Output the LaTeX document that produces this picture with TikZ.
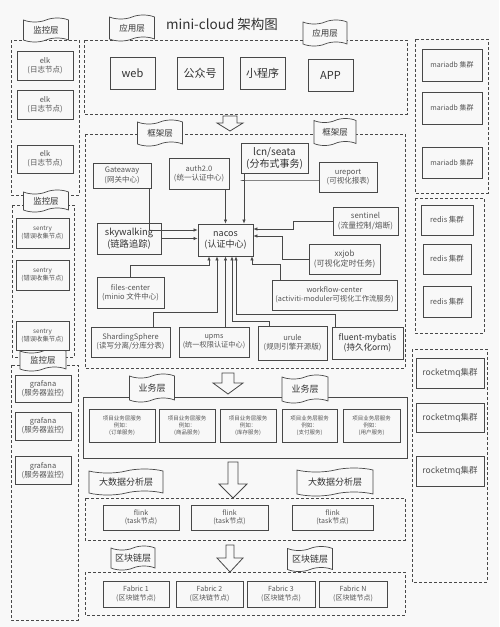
\documentclass[tikz,border=0pt]{standalone}
\usepackage{fontspec}
\setmainfont{Noto Sans CJK SC}
\usetikzlibrary{shapes.symbols,arrows.meta}
\definecolor{bg}{RGB}{248,248,248}
\definecolor{ln}{RGB}{72,72,72}
\definecolor{tx}{RGB}{50,50,50}
\definecolor{tx2}{RGB}{85,85,85}
\begin{document}
\begin{tikzpicture}[x=1pt,y=-1pt,
 bx/.style={draw=ln, line width=0.8pt, fill=bg, align=center, text=tx2, inner sep=1pt},
 dbox/.style={draw=ln, line width=0.8pt, dash pattern=on 3pt off 2pt},
 sbox/.style={draw=ln, line width=0.8pt},
 flag/.style={shape=tape, draw=ln, line width=0.7pt, fill=bg, tape bend height=4pt, text=tx, inner sep=0pt, font=\fontsize{8.5}{10}\selectfont},
 arr/.style={draw=ln, line width=0.7pt, -{Latex[length=4pt,width=3.5pt]}},
 cn/.style={draw=ln, line width=0.7pt},
 harrow/.style={draw=ln, line width=0.8pt, fill=bg, line join=miter},
 fa/.style={font=\fontsize{5.5}{6.8}\selectfont},
 fb/.style={font=\fontsize{7}{8.6}\selectfont},
 fc/.style={font=\fontsize{7.5}{9.2}\selectfont},
 fd/.style={font=\fontsize{8.5}{10.5}\selectfont},
 fe/.style={font=\fontsize{10}{12}\selectfont, text=tx},
 ff/.style={font=\fontsize{11}{13}\selectfont, text=tx},
 ]
\fill[bg] (0,0) rectangle (499,627);
\useasboundingbox (0,0) rectangle (499,627);

% title
\node[text=tx, font=\fontsize{13.5}{16}\selectfont] (title) at (222,24) {mini-cloud 架构图};

% ---------- dashed containers ----------
\draw[dbox] (11,40) rectangle (79,195);
\draw[dbox] (12,205) rectangle (74,357);
\draw[dbox] (11,365) rectangle (78,620);
\draw[dbox] (84,40) rectangle (407,114);
\draw[dbox] (85,134) rectangle (405,368);
\draw[sbox] (83,397) rectangle (407,458);
\draw[dbox] (85,498) rectangle (405,540);
\draw[dbox] (85,572) rectangle (405,615);
\draw[dbox] (415,39) rectangle (488,193);
\draw[dbox] (415,198) rectangle (484,333);
\draw[dbox] (412,349) rectangle (487,582);

% ---------- flags ----------
\node[flag, minimum width=45, minimum height=24] (fm1) at (46,30) {监控层};
\node[flag, minimum width=45, minimum height=22] (fm2) at (46,201) {监控层};
\node[flag, minimum width=46, minimum height=22] (fm3) at (43,360) {监控层};
\node[flag, minimum width=45, minimum height=26] (fa1) at (132,28) {应用层};
\node[flag, minimum width=44, minimum height=26] (fa2) at (325,33) {应用层};
\node[flag, minimum width=45, minimum height=26] (ff1) at (160,133) {框架层};
\node[flag, minimum width=42, minimum height=27] (ff2) at (335,132) {框架层};
\node[flag, minimum width=45, minimum height=28, font=\fontsize{9}{11}\selectfont] (fb1) at (152,388) {业务层};
\node[flag, minimum width=46, minimum height=28, font=\fontsize{9}{11}\selectfont] (fb2) at (305,389) {业务层};
\node[flag, minimum width=74, minimum height=26, font=\fontsize{9}{11}\selectfont] (fd1) at (126,482) {大数据分析层};
\node[flag, minimum width=76, minimum height=28, font=\fontsize{9}{11}\selectfont] (fd2) at (335,482) {大数据分析层};
\node[flag, minimum width=44, minimum height=24, font=\fontsize{9}{11}\selectfont] (fc1) at (133,558) {区块链层};
\node[flag, minimum width=45, minimum height=25, font=\fontsize{9}{11}\selectfont] (fc2) at (310,559) {区块链层};

% ---------- hollow arrows ----------
\draw[harrow] (223,116) -- (237,116) -- (237,123) -- (243,123) -- (230,131) -- (217,123) -- (223,123) -- cycle;
\draw[harrow] (222,373) -- (234,373) -- (234,383) -- (243,383) -- (228,394) -- (213,383) -- (222,383) -- cycle;
\draw[harrow] (228,462) -- (238,462) -- (238,484) -- (247,484) -- (233,498) -- (219,484) -- (228,484) -- cycle;
\draw[harrow] (226,545) -- (234,545) -- (234,558) -- (243,558) -- (230,572) -- (217,558) -- (226,558) -- cycle;

% ---------- left column ----------
\node[bx, fc, minimum width=56, minimum height=29] (elk1) at (45,65.5) {elk\\(日志节点)};
\node[bx, fc, minimum width=56, minimum height=29] (elk2) at (45,104.5) {elk\\(日志节点)};
\node[bx, fc, minimum width=56, minimum height=28] (elk3) at (45,159) {elk\\(日志节点)};
\node[bx, font=\fontsize{6.3}{8}\selectfont, minimum width=53, minimum height=30] (sen1) at (42.5,233) {sentry\\(错误收集节点)};
\node[bx, font=\fontsize{6.3}{8}\selectfont, minimum width=53, minimum height=30] (sen2) at (42.5,275) {sentry\\(错误收集节点)};
\node[bx, font=\fontsize{6.3}{8}\selectfont, minimum width=53, minimum height=29] (sen3) at (42.5,336) {sentry\\(错误收集节点)};
\node[bx, fc, minimum width=56, minimum height=27] (gra1) at (43,389) {grafana\\(服务器监控)};
\node[bx, fc, minimum width=56, minimum height=28] (gra2) at (43,426) {grafana\\(服务器监控)};
\node[bx, fc, minimum width=56, minimum height=28] (gra3) at (43,470.5) {grafana\\(服务器监控)};

% ---------- application layer ----------
\node[bx, ff, minimum width=45, minimum height=32] (web) at (132.5,73) {web};
\node[bx, ff, minimum width=46, minimum height=32] (gzh) at (200,73) {公众号};
\node[bx, ff, minimum width=45, minimum height=32] (xcx) at (262.5,73) {小程序};
\node[bx, ff, minimum width=45, minimum height=32] (app) at (330.5,75) {APP};

% ---------- framework layer ----------
\node[bx, fc, minimum width=58, minimum height=25] (gw) at (122,175.5) {Gateaway\\(网关中心)};
\node[bx, fc, minimum width=60, minimum height=31] (auth) at (199,173.5) {auth2.0\\(统一认证中心)};
\node[bx, fe, minimum width=67, minimum height=30] (lcn) at (274.5,158) {lcn/seata\\(分布式事务)};
\node[bx, fc, minimum width=58, minimum height=30] (urep) at (348,177) {ureport\\(可视化报表)};
\node[bx, font=\fontsize{7.8}{9.5}\selectfont, minimum width=65, minimum height=28] (sent) at (365.5,221) {sentinel\\(流量控制/熔断)};
\node[bx, font=\fontsize{9.3}{11.5}\selectfont, text=tx, minimum width=64, minimum height=31] (sky) at (129,238.5) {skywalking\\(链路追踪)};
\node[bx, font=\fontsize{9}{11}\selectfont, text=tx, minimum width=55, minimum height=32] (nacos) at (225.5,240) {nacos\\(认证中心)};
\node[bx, font=\fontsize{8}{10}\selectfont, minimum width=71, minimum height=30] (xxjob) at (344.5,259) {xxjob\\(可视化定时任务)};
\node[bx, fc, minimum width=67, minimum height=31] (files) at (130.5,292.5) {files-center\\(minio 文件中心)};
\node[bx, font=\fontsize{7.3}{9}\selectfont, minimum width=125, minimum height=30] (wf) at (334.5,295) {workflow-center\\(activiti-moduler可视化工作流服务)};
\node[bx, fc, minimum width=79, minimum height=30] (shard) at (130.5,342) {ShardingSphere\\(读写分离/分库分表)};
\node[bx, font=\fontsize{7.2}{9}\selectfont, minimum width=70, minimum height=30] (upms) at (214,342) {upms\\(统一权限认证中心)};
\node[bx, fc, minimum width=69, minimum height=34] (urule) at (292.5,343) {urule\\(规则引擎开源版)};
\node[bx, fd, text=tx, minimum width=71, minimum height=32] (fluent) at (367.5,343) {fluent-mybatis\\(持久化orm)};

% connectors to nacos
\draw[arr] ([xshift=-2pt]gw.south east) |- ([yshift=10pt]nacos.west);
\draw[arr] (sky.east) -- (sky.east -| nacos.west);
\draw[arr] (auth.south -| nacos.north) -- (nacos.north);
\draw[arr] ([xshift=18.5pt]nacos.north |- lcn.south) -- ([xshift=18.5pt]nacos.north);
\draw[cn] ([yshift=-3pt]urep.west) -- ([yshift=-3pt]urep.west -| lcn.south west) -- ++(3,0);
\draw[arr] (sent.west) -- ++(-39,0) |- ([yshift=11pt]nacos.east);
\draw[arr] (xxjob.west) -- ++(-26,0) |- ([yshift=4pt]nacos.east);
\draw[arr] (files.north) -- ++(0,-11) -| ([xshift=-16.5pt]nacos.south);
\draw[arr] ([xshift=22.5pt]shard.north) -- ++(0,-14) -| ([xshift=-8.5pt]nacos.south);
\draw[arr] (upms.north -| nacos.south) -- (nacos.south);
\draw[arr] ([xshift=-23.5pt]urule.north) -- ++(0,-4) -| ([xshift=6.5pt]nacos.south);
\draw[arr] ([xshift=-32.5pt]fluent.north) -- ++(0,-12) -| ([xshift=10.5pt]nacos.south);
\draw[arr] ([xshift=-54.5pt]wf.north) -- ++(0,-15) -| ([xshift=26.5pt]nacos.south);

% ---------- business layer ----------
\node[bx, fa, minimum width=66, minimum height=33] (b1) at (122,425.5) {项目业务层服务\\例如：\\(订单服务)};
\node[bx, fa, minimum width=56, minimum height=33] (b2) at (187,425.5) {项目业务层服务\\例如：\\(商品服务)};
\node[bx, fa, minimum width=56, minimum height=33] (b3) at (248,425.5) {项目业务层服务\\例如：\\(库存服务)};
\node[bx, fa, minimum width=55, minimum height=33] (b4) at (309.5,425.5) {项目业务层服务\\例如：\\(支付服务)};
\node[bx, fa, minimum width=57, minimum height=33] (b5) at (371.5,425.5) {项目业务层服务\\例如：\\(用户服务)};

% ---------- big data layer ----------
\node[bx, fb, minimum width=76, minimum height=25] (fl1) at (141,517.5) {flink\\(task节点)};
\node[bx, fb, minimum width=77, minimum height=25] (fl2) at (229.5,517.5) {flink\\(task节点)};
\node[bx, fb, minimum width=81, minimum height=25] (fl3) at (332.5,517.5) {flink\\(task节点)};

% ---------- blockchain layer ----------
\node[bx, fb, minimum width=66, minimum height=26] (fa) at (136,594) {Fabric 1\\(区块链节点)};
\node[bx, fb, minimum width=67, minimum height=26] (fbb) at (209.5,594) {Fabric 2\\(区块链节点)};
\node[bx, fb, minimum width=68, minimum height=26] (fcc) at (281,594) {Fabric 3\\(区块链节点)};
\node[bx, fb, minimum width=68, minimum height=26] (fn) at (353,594) {Fabric N\\(区块链节点)};

% ---------- right column ----------
\node[bx, fb, minimum width=60, minimum height=32] (m1) at (452,65) {mariadb 集群};
\node[bx, fb, minimum width=60, minimum height=32] (m2) at (452,108) {mariadb 集群};
\node[bx, fb, minimum width=60, minimum height=31] (m3) at (452,162.5) {mariadb 集群};
\node[bx, fc, minimum width=52, minimum height=30] (r1) at (447,220) {redis 集群};
\node[bx, fc, minimum width=48, minimum height=30] (r2) at (447,259) {redis 集群};
\node[bx, fc, minimum width=48, minimum height=31] (r3) at (447,301.5) {redis 集群};
\node[bx, fd, minimum width=68, minimum height=30] (q1) at (450,373) {rocketmq集群};
\node[bx, fd, minimum width=68, minimum height=29] (q2) at (450,417.5) {rocketmq集群};
\node[bx, fd, minimum width=68, minimum height=30] (q3) at (450,471) {rocketmq集群};
\end{tikzpicture}
\end{document}
